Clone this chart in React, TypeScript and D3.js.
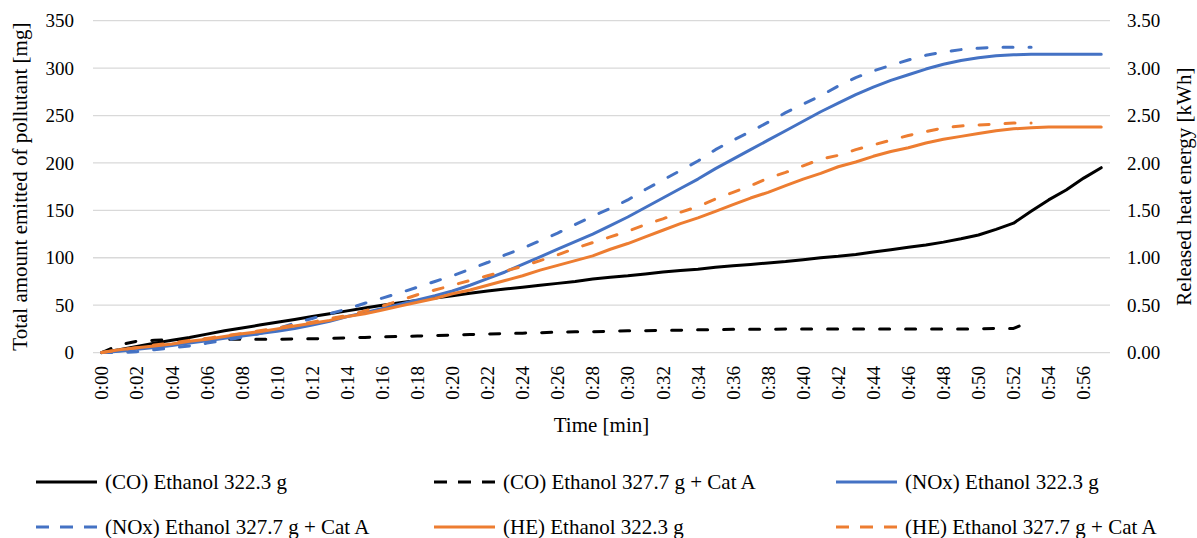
import React from "react";
import * as d3 from "d3";

const minutes: number[] = d3.range(0, 58);
const timeLabels: string[] = minutes.map((m) => `0:${String(m).padStart(2, "0")}`);

const leftTicks: number[] = [0, 50, 100, 150, 200, 250, 300, 350];
const rightTicks: number[] = [0, 0.5, 1, 1.5, 2, 2.5, 3, 3.5];

// (CO) Ethanol 322.3 g  [mg]
const coBase: number[] = [
  0, 3, 6.5, 10, 13, 16, 19.5, 23, 26, 29,
  32, 35, 38, 41, 44, 47, 50, 52.5, 55, 57.5,
  60, 62.5, 65, 67, 69, 71, 73, 75, 77.5, 79.5,
  81, 83, 85, 86.5, 88, 90, 91.5, 93, 94.5, 96,
  98, 100, 101.5, 103.5, 106, 108.5, 111, 113.5, 116.5, 120,
  124, 130, 136.5, 149, 161, 171.5, 184, 195,
];
// (CO) Ethanol 327.7 g + Cat A  [mg]
const coCat: number[] = [
  0, 8, 12, 13, 13.5, 14, 14, 14, 14, 14,
  14, 14.5, 14.5, 15, 15.5, 16, 16.5, 17, 17.5, 18,
  18.5, 19, 19.5, 20, 20.5, 21, 21.5, 22, 22, 22.5,
  23, 23, 23.5, 23.5, 24, 24, 24.5, 24.5, 24.5, 25,
  25, 25, 25, 25, 25, 25, 25, 25, 25, 25,
  25, 25.5, 25.5, 33,
];
// (NOx) Ethanol 322.3 g  [mg]
const noxBase: number[] = [
  0, 1.5, 3.5, 5.5, 7.5, 10, 12.5, 15, 17.5, 20,
  22.5, 25.5, 29, 33, 38, 42, 46.5, 51, 55.5, 60,
  65, 71, 78, 85, 93, 101, 109, 117, 125, 134,
  143, 153, 163, 173, 183, 194, 204, 214, 224, 234,
  244, 254, 263, 272, 280, 287, 293, 299, 304, 308,
  311, 313, 314, 314.5, 314.5, 314.5, 314.5, 314.5,
];
// (NOx) Ethanol 327.7 g + Cat A  [mg]
const noxCat: number[] = [
  0, 0, 1, 3, 5, 7, 10, 13, 16, 20,
  25, 31, 36, 41, 46, 52, 57.5, 63, 69, 75,
  81, 88, 95, 103, 110, 118, 126, 135, 144, 152,
  161, 172, 182, 192, 202, 214, 224, 233, 243, 253,
  262, 271, 281, 290, 297, 303, 308.5, 313.5, 317, 319.5,
  321, 322, 322, 322,
];
// (HE) Ethanol 322.3 g  [kWh]
const heBase: number[] = [
  0, 0.03, 0.05, 0.07, 0.09, 0.12, 0.14, 0.17, 0.2, 0.22,
  0.25, 0.28, 0.31, 0.34, 0.38, 0.41, 0.45, 0.49, 0.53, 0.57,
  0.62, 0.66, 0.71, 0.76, 0.81, 0.87, 0.92, 0.97, 1.02, 1.09,
  1.15, 1.22, 1.29, 1.36, 1.42, 1.49, 1.56, 1.63, 1.69, 1.76,
  1.83, 1.89, 1.96, 2.01, 2.07, 2.12, 2.16, 2.21, 2.25, 2.28,
  2.31, 2.34, 2.36, 2.37, 2.38, 2.38, 2.38, 2.38,
];
// (HE) Ethanol 327.7 g + Cat A  [kWh]
const heCat: number[] = [
  0, 0.03, 0.05, 0.08, 0.1, 0.13, 0.15, 0.18, 0.2, 0.23,
  0.26, 0.29, 0.32, 0.36, 0.39, 0.44, 0.49, 0.55, 0.61, 0.66,
  0.71, 0.76, 0.81, 0.86, 0.91, 0.97, 1.03, 1.1, 1.16, 1.22,
  1.28, 1.35, 1.41, 1.48, 1.54, 1.62, 1.69, 1.76, 1.84, 1.9,
  1.97, 2.04, 2.08, 2.14, 2.19, 2.24, 2.29, 2.33, 2.37, 2.39,
  2.4, 2.41, 2.42, 2.42,
];

const seriesNames: string[] = [
  "(CO) Ethanol 322.3 g",
  "(CO) Ethanol 327.7 g + Cat A",
  "(NOx) Ethanol 322.3 g",
  "(NOx) Ethanol 327.7 g + Cat A",
  "(HE) Ethanol 322.3 g",
  "(HE) Ethanol 327.7 g + Cat A",
];

const BLACK = "#000000";
const BLUE = "#4472C4";
const ORANGE = "#ED7D31";
const FONT = "'Liberation Serif', 'Times New Roman', serif";

export default function App() {
  const W = 1197;
  const H = 538;
  const left = 93;
  const right = 1110;
  const top = 20.7;
  const bottom = 352.6;

  const x = d3.scalePoint<number>().domain(minutes).range([left, right]).padding(0.5);
  const yL = d3.scaleLinear().domain([0, 350]).range([bottom, top]);
  const yR = d3.scaleLinear().domain([0, 3.5]).range([bottom, top]);

  const mkLine = (scale: d3.ScaleLinear<number, number>) =>
    d3
      .line<number>()
      .x((_, i) => x(minutes[i]) as number)
      .y((d) => scale(d))
      .curve(d3.curveLinear);

  const lineL = mkLine(yL);
  const lineR = mkLine(yR);

  const dash = "10,16";
  const series = [
    { path: lineL(coBase), color: BLACK, dashed: false },
    { path: lineL(coCat), color: BLACK, dashed: true },
    { path: lineL(noxBase), color: BLUE, dashed: false },
    { path: lineL(noxCat), color: BLUE, dashed: true },
    { path: lineR(heBase), color: ORANGE, dashed: false },
    { path: lineR(heCat), color: ORANGE, dashed: true },
  ];

  const legendCols = [36, 434, 836];
  const legendRows = [482, 527];
  const legendItems = [
    { name: seriesNames[0], color: BLACK, dashed: false },
    { name: seriesNames[1], color: BLACK, dashed: true },
    { name: seriesNames[2], color: BLUE, dashed: false },
    { name: seriesNames[3], color: BLUE, dashed: true },
    { name: seriesNames[4], color: ORANGE, dashed: false },
    { name: seriesNames[5], color: ORANGE, dashed: true },
  ];

  const midY = (top + bottom) / 2;
  const tickFs = 19;
  const titleFs = 21;
  const legendFs = 21;

  return (
    <svg
      width={W}
      height={H}
      style={{ position: "absolute", left: 0, top: 0, background: "#fff" }}
      fontFamily={FONT}
    >
      <rect x={0} y={0} width={W} height={H} fill="#fff" />
      {leftTicks.map((t) => (
        <line
          key={"g" + t}
          x1={left}
          x2={right}
          y1={yL(t)}
          y2={yL(t)}
          stroke="#d9d9d9"
          strokeWidth={1.3}
        />
      ))}
      {leftTicks.map((t) => (
        <text key={"l" + t} x={74} y={yL(t)} dy="0.35em" textAnchor="end" fontSize={tickFs} fill="#000">
          {t}
        </text>
      ))}
      {rightTicks.map((t) => (
        <text key={"r" + t} x={1127} y={yR(t)} dy="0.35em" textAnchor="start" fontSize={tickFs} fill="#000">
          {t.toFixed(2)}
        </text>
      ))}
      {minutes
        .filter((m) => m % 2 === 0)
        .map((m) => (
          <text
            key={"x" + m}
            transform={`translate(${x(m)},${366}) rotate(-90)`}
            dy="0.35em"
            textAnchor="end"
            fontSize={tickFs}
            fill="#000"
          >
            {timeLabels[m]}
          </text>
        ))}
      <text x={(left + right) / 2} y={432} textAnchor="middle" fontSize={titleFs} fill="#000">
        Time [min]
      </text>
      <text
        transform={`translate(20,${midY}) rotate(-90)`}
        dy="0.35em"
        textAnchor="middle"
        fontSize={titleFs}
        fill="#000"
      >
        Total amount emitted of pollutant [mg]
      </text>
      <text
        transform={`translate(1184,${midY}) rotate(-90)`}
        dy="0.35em"
        textAnchor="middle"
        fontSize={titleFs}
        fill="#000"
      >
        Released heat energy [kWh]
      </text>
      {series.map((s, i) => (
        <path
          key={"s" + i}
          d={s.path || ""}
          fill="none"
          stroke={s.color}
          strokeWidth={3}
          strokeDasharray={s.dashed ? dash : undefined}
          strokeLinecap="round"
          strokeLinejoin="round"
        />
      ))}
      {legendItems.map((it, i) => {
        const cx = legendCols[i % 3];
        const cy = legendRows[Math.floor(i / 3)];
        return (
          <g key={"lg" + i}>
            <line
              x1={cx}
              x2={cx + 61}
              y1={cy}
              y2={cy}
              stroke={it.color}
              strokeWidth={3.2}
              strokeDasharray={it.dashed ? "13,11" : undefined}
            />
            <text x={cx + 69} y={cy} dy="0.35em" fontSize={legendFs} fill="#000">
              {it.name}
            </text>
          </g>
        );
      })}
    </svg>
  );
}
